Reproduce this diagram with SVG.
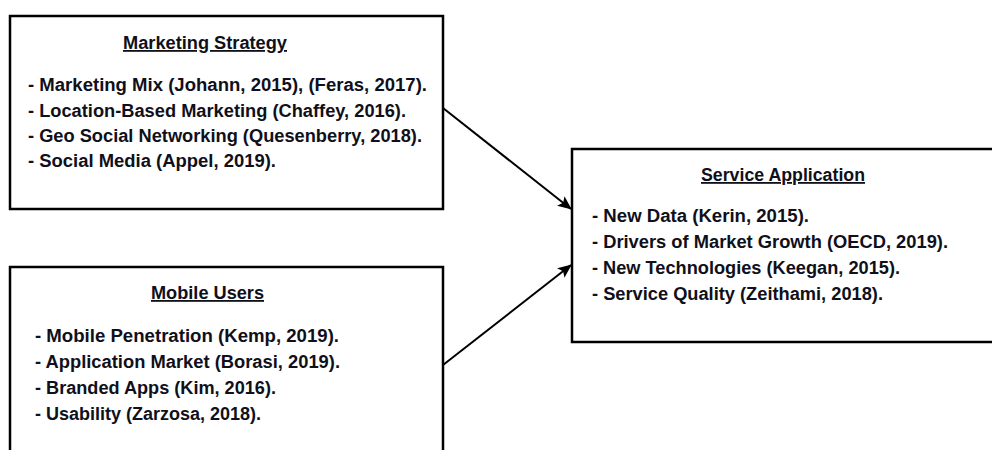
<svg xmlns="http://www.w3.org/2000/svg" width="992" height="450" viewBox="0 0 992 450">
  <defs>
    <style>
      .box { fill: #ffffff; stroke: #000000; stroke-width: 2.5; }
      .txt { font-family: "Liberation Sans", Arial, sans-serif; font-weight: bold; font-size: 18px; fill: #10101a; }
      .title { text-anchor: middle; text-decoration: underline; }
      .conn { stroke: #000000; stroke-width: 2; fill: none; }
    </style>
    <marker id="arrow" markerUnits="userSpaceOnUse" markerWidth="14" markerHeight="12" refX="13" refY="6" orient="auto">
      <path d="M0,0 L14,6 L0,12 L3,6 Z" fill="#000000"/>
    </marker>
  </defs>
  <rect x="0" y="0" width="992" height="450" fill="#ffffff"/>

  <g id="marketing-strategy">
    <rect class="box" x="10" y="16" width="433" height="193"/>
    <text class="txt title" x="205" y="49" textLength="164" lengthAdjust="spacingAndGlyphs">Marketing Strategy</text>
    <text class="txt" x="28" y="91" textLength="399" lengthAdjust="spacingAndGlyphs">- Marketing Mix (Johann, 2015), (Feras, 2017).</text>
    <text class="txt" x="28" y="117" textLength="378" lengthAdjust="spacingAndGlyphs">- Location-Based Marketing (Chaffey, 2016).</text>
    <text class="txt" x="28" y="142" textLength="394" lengthAdjust="spacingAndGlyphs">- Geo Social Networking (Quesenberry, 2018).</text>
    <text class="txt" x="28" y="167" textLength="248" lengthAdjust="spacingAndGlyphs">- Social Media (Appel, 2019).</text>
  </g>

  <g id="mobile-users">
    <rect class="box" x="10" y="267" width="433" height="200"/>
    <text class="txt title" x="207.5" y="299" textLength="113" lengthAdjust="spacingAndGlyphs">Mobile Users</text>
    <text class="txt" x="35" y="342" textLength="304" lengthAdjust="spacingAndGlyphs">- Mobile Penetration (Kemp, 2019).</text>
    <text class="txt" x="35" y="368" textLength="305" lengthAdjust="spacingAndGlyphs">- Application Market (Borasi, 2019).</text>
    <text class="txt" x="35" y="394" textLength="241" lengthAdjust="spacingAndGlyphs">- Branded Apps (Kim, 2016).</text>
    <text class="txt" x="35" y="420" textLength="226" lengthAdjust="spacingAndGlyphs">- Usability (Zarzosa, 2018).</text>
  </g>

  <g id="service-application">
    <rect class="box" x="572" y="149" width="440" height="193"/>
    <text class="txt title" x="783" y="181" textLength="164" lengthAdjust="spacingAndGlyphs">Service Application</text>
    <text class="txt" x="592" y="222" textLength="217" lengthAdjust="spacingAndGlyphs">- New Data (Kerin, 2015).</text>
    <text class="txt" x="592" y="248" textLength="356" lengthAdjust="spacingAndGlyphs">- Drivers of Market Growth (OECD, 2019).</text>
    <text class="txt" x="592" y="274" textLength="308" lengthAdjust="spacingAndGlyphs">- New Technologies (Keegan, 2015).</text>
    <text class="txt" x="592" y="300" textLength="291" lengthAdjust="spacingAndGlyphs">- Service Quality (Zeithami, 2018).</text>
  </g>

  <g id="connectors">
    <line class="conn" x1="443" y1="108" x2="571" y2="209" marker-end="url(#arrow)"/>
    <line class="conn" x1="443" y1="365" x2="571" y2="265" marker-end="url(#arrow)"/>
  </g>
</svg>
